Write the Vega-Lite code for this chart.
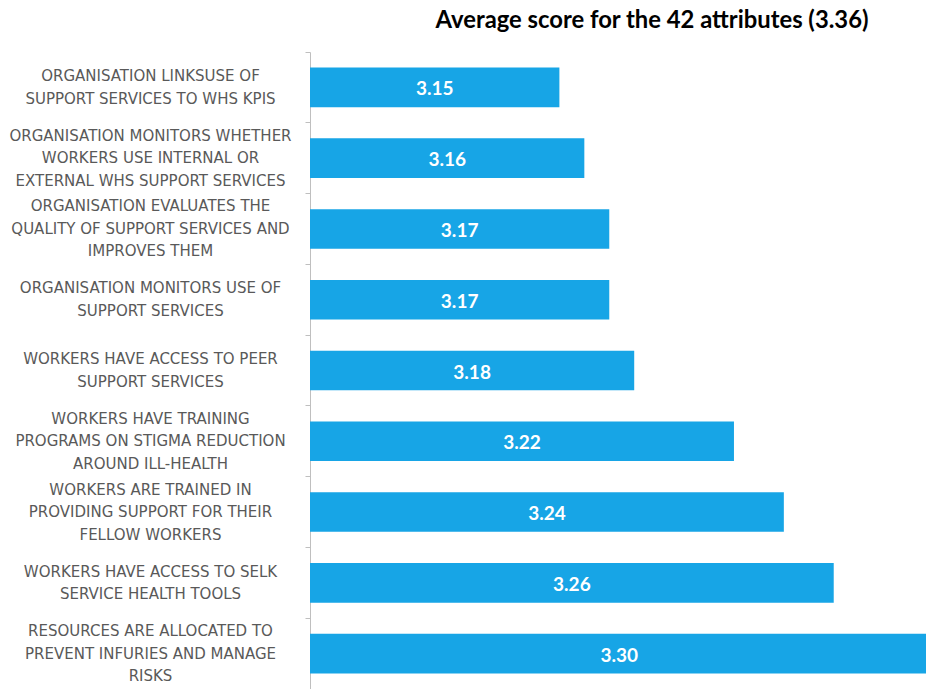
{
  "$schema": "https://vega.github.io/schema/vega-lite/v6.json",
  "width": 616,
  "height": 637,
  "autosize": {"type": "none"},
  "padding": {"left": 310, "top": 52, "right": 0, "bottom": 0},
  "background": "white",
  "title": {
    "text": "Average score for the 42 attributes (3.36)",
    "font": "Lato",
    "fontSize": 23.8,
    "fontWeight": "bold",
    "color": "#000000",
    "anchor": "middle",
    "dx": 34,
    "offset": 19
  },
  "config": {"view": {"stroke": null}},
  "data": {
    "values": [
      {"attribute": "ORGANISATION LINKSUSE OF|SUPPORT SERVICES TO WHS KPIS", "score": 3.15},
      {"attribute": "ORGANISATION MONITORS WHETHER|WORKERS USE INTERNAL OR|EXTERNAL WHS SUPPORT SERVICES", "score": 3.16},
      {"attribute": "ORGANISATION EVALUATES THE|QUALITY OF SUPPORT SERVICES AND|IMPROVES THEM", "score": 3.17},
      {"attribute": "ORGANISATION MONITORS USE OF|SUPPORT SERVICES", "score": 3.17},
      {"attribute": "WORKERS HAVE ACCESS TO PEER|SUPPORT SERVICES", "score": 3.18},
      {"attribute": "WORKERS HAVE TRAINING|PROGRAMS ON STIGMA REDUCTION|AROUND ILL-HEALTH", "score": 3.22},
      {"attribute": "WORKERS ARE TRAINED IN|PROVIDING SUPPORT FOR THEIR|FELLOW WORKERS", "score": 3.24},
      {"attribute": "WORKERS HAVE ACCESS TO SELK|SERVICE HEALTH TOOLS", "score": 3.26},
      {"attribute": "RESOURCES ARE ALLOCATED TO|PREVENT INFURIES AND MANAGE|RISKS", "score": 3.30}
    ]
  },
  "encoding": {
    "y": {
      "field": "attribute",
      "type": "nominal",
      "sort": null,
      "scale": {"paddingInner": 0, "paddingOuter": 0},
      "axis": {
        "title": null,
        "bandPosition": 0,
        "labelOffset": {"condition": {"test": "length(split(datum.label, '|')) == 3", "value": -22.5}, "value": -11.25},
        "labelExpr": "split(datum.label, '|')",
        "labelAlign": "center",
        "labelBaseline": "middle",
        "labelPadding": 155,
        "labelFont": "DejaVu Sans",
        "labelFontSize": 15,
        "labelColor": "#595959",
        "labelLineHeight": 22.5,
        "labelLimit": 0,
        "tickSize": 5,
        "tickColor": "#BFBFBF",
        "domainColor": "#BFBFBF",
        "domainWidth": 1
      }
    }
  },
  "layer": [
    {
      "mark": {"type": "bar", "color": "#17A5E6", "height": {"band": 0.56}, "clip": true},
      "encoding": {
        "x": {
          "field": "score",
          "type": "quantitative",
          "scale": {"domain": [3.05, 3.297], "zero": false, "nice": false, "clamp": true},
          "axis": null
        }
      }
    },
    {
      "transform": [{"calculate": "min((datum.score + 3.05) / 2, 3.174)", "as": "mid"}],
      "mark": {"type": "text", "color": "white", "font": "Lato", "fontSize": 19, "fontWeight": "bold", "baseline": "middle", "align": "center", "dy": 2},
      "encoding": {
        "x": {"field": "mid", "type": "quantitative"},
        "text": {"field": "score", "type": "quantitative", "format": ".2f"}
      }
    }
  ]
}
